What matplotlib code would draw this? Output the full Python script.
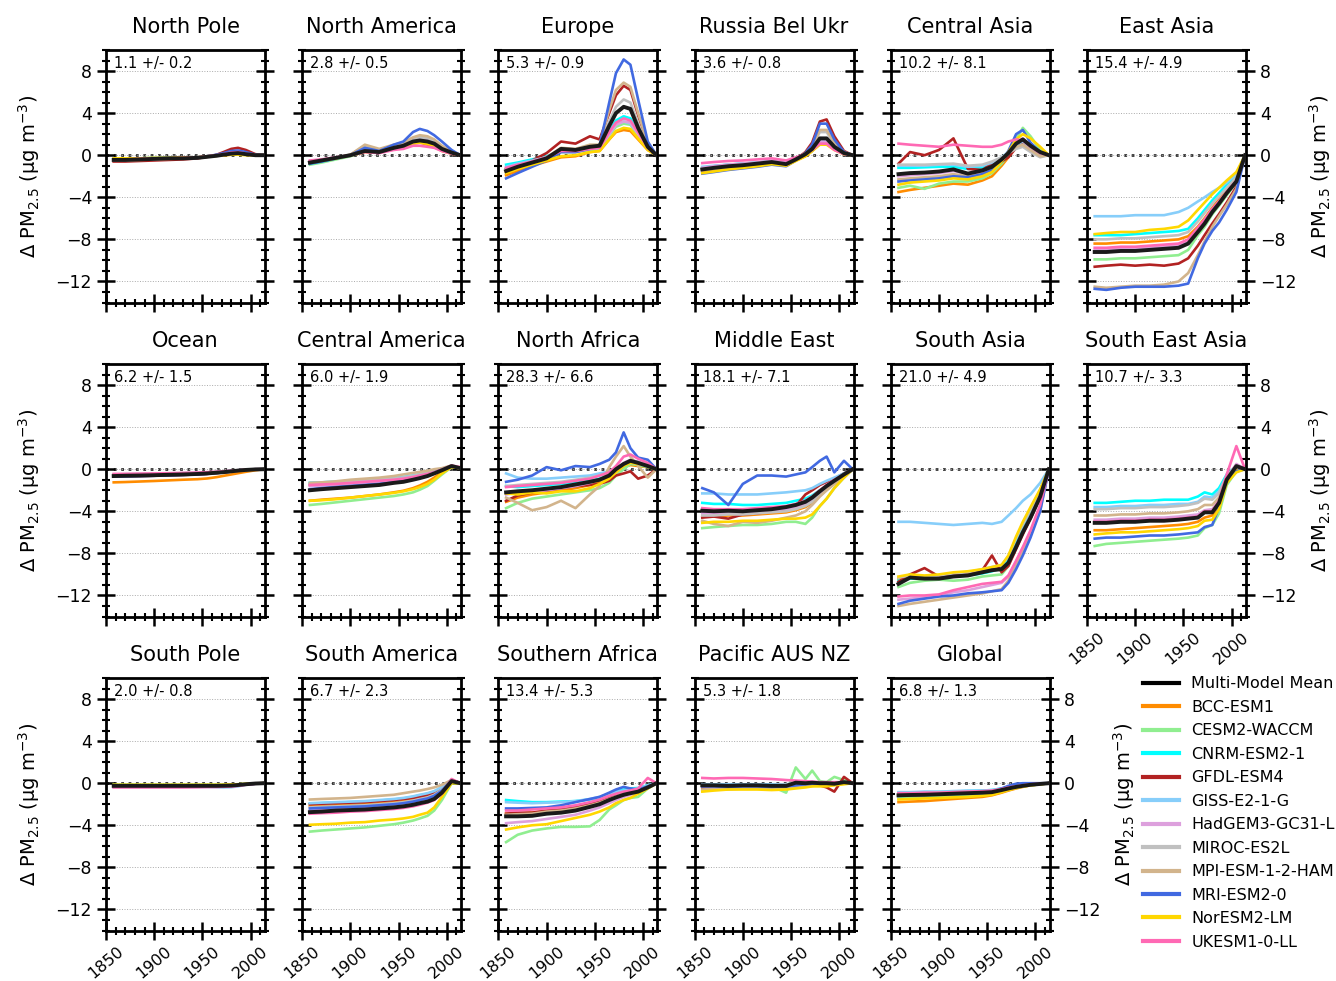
import matplotlib
matplotlib.use("Agg")
import matplotlib.pyplot as plt
from matplotlib.lines import Line2D
from matplotlib.ticker import MultipleLocator

# sample years (values at these years)
YEARS = [1858, 1870, 1885, 1900, 1915, 1930, 1945, 1955, 1965, 1972, 1980, 1987, 1995, 2005, 2014]

SERIES = ["Multi-Model Mean", "BCC-ESM1", "CESM2-WACCM", "CNRM-ESM2-1", "GFDL-ESM4",
          "GISS-E2-1-G", "HadGEM3-GC31-LL", "MIROC-ES2L", "MPI-ESM-1-2-HAM",
          "MRI-ESM2-0", "NorESM2-LM", "UKESM1-0-LL"]
COLORS = ["black", "darkorange", "lightgreen", "cyan", "firebrick", "lightskyblue",
          "plum", "silver", "tan", "royalblue", "gold", "hotpink"]

TITLES = ["North Pole", "North America", "Europe", "Russia Bel Ukr", "Central Asia", "East Asia",
          "Ocean", "Central America", "North Africa", "Middle East", "South Asia", "South East Asia",
          "South Pole", "South America", "Southern Africa", "Pacific AUS NZ", "Global"]
SPREAD = ["1.1 +/- 0.2", "2.8 +/- 0.5", "5.3 +/- 0.9", "3.6 +/- 0.8", "10.2 +/- 8.1", "15.4 +/- 4.9",
          "6.2 +/- 1.5", "6.0 +/- 1.9", "28.3 +/- 6.6", "18.1 +/- 7.1", "21.0 +/- 4.9", "10.7 +/- 3.3",
          "2.0 +/- 0.8", "6.7 +/- 2.3", "13.4 +/- 5.3", "5.3 +/- 1.8", "6.8 +/- 1.3"]

# each region: one row per entry of SERIES (same order)
NORTH_POLE = [
    [-0.45, -0.45, -0.4, -0.35, -0.3, -0.3, -0.25, -0.15, -0.05, 0.05, 0.15, 0.2, 0.1, 0.0, 0.0],
    [-0.4, -0.4, -0.35, -0.3, -0.3, -0.25, -0.2, -0.15, -0.05, 0.0, 0.05, 0.1, 0.05, 0.0, 0.0],
    [-0.3, -0.3, -0.3, -0.25, -0.25, -0.2, -0.2, -0.1, 0.0, 0.05, 0.1, 0.1, 0.05, 0.0, 0.0],
    [-0.35, -0.35, -0.3, -0.3, -0.25, -0.25, -0.2, -0.1, 0.0, 0.05, 0.1, 0.15, 0.1, 0.0, 0.0],
    [-0.6, -0.6, -0.55, -0.5, -0.45, -0.4, -0.3, -0.15, 0.05, 0.3, 0.6, 0.7, 0.5, 0.1, 0.0],
    [-0.3, -0.3, -0.3, -0.25, -0.25, -0.2, -0.2, -0.1, 0.0, 0.05, 0.15, 0.2, 0.1, 0.0, 0.0],
    [-0.4, -0.4, -0.35, -0.3, -0.3, -0.25, -0.2, -0.1, 0.0, 0.1, 0.2, 0.25, 0.15, 0.0, 0.0],
    [-0.35, -0.35, -0.3, -0.3, -0.25, -0.25, -0.2, -0.1, 0.0, 0.1, 0.2, 0.2, 0.1, 0.0, 0.0],
    [-0.5, -0.5, -0.45, -0.4, -0.35, -0.3, -0.25, -0.1, 0.0, 0.15, 0.3, 0.35, 0.2, 0.0, 0.0],
    [-0.45, -0.45, -0.4, -0.35, -0.3, -0.3, -0.25, -0.1, 0.05, 0.2, 0.4, 0.45, 0.3, 0.05, 0.0],
    [-0.3, -0.3, -0.3, -0.25, -0.25, -0.2, -0.2, -0.1, -0.05, 0.0, 0.05, 0.05, 0.0, 0.0, 0.0],
    [-0.4, -0.4, -0.35, -0.3, -0.3, -0.25, -0.2, -0.1, 0.0, 0.1, 0.25, 0.3, 0.15, 0.0, 0.0],
]
NORTH_AMERICA = [
    [-0.7, -0.5, -0.25, 0.0, 0.4, 0.3, 0.7, 0.9, 1.3, 1.4, 1.3, 1.1, 0.6, 0.25, 0.0],
    [-0.7, -0.5, -0.3, -0.05, 0.3, 0.25, 0.6, 0.8, 1.1, 1.2, 1.0, 0.8, 0.4, 0.15, 0.0],
    [-0.9, -0.7, -0.4, -0.1, 0.4, 0.3, 0.7, 0.9, 1.2, 1.3, 1.2, 1.0, 0.6, 0.2, 0.0],
    [-0.8, -0.6, -0.3, 0.0, 0.8, 0.5, 0.9, 1.1, 1.6, 1.8, 1.6, 1.3, 0.8, 0.3, 0.0],
    [-0.6, -0.45, -0.25, 0.0, 0.4, 0.3, 0.6, 0.8, 1.2, 1.4, 1.3, 1.1, 0.6, 0.25, 0.0],
    [-0.7, -0.5, -0.3, 0.0, 0.7, 0.4, 0.8, 1.0, 1.4, 1.6, 1.5, 1.2, 0.7, 0.3, 0.0],
    [-0.6, -0.45, -0.2, 0.0, 0.5, 0.3, 0.7, 0.9, 1.3, 1.5, 1.4, 1.2, 0.7, 0.3, 0.0],
    [-0.7, -0.5, -0.25, 0.05, 0.9, 0.5, 0.9, 1.1, 1.5, 1.7, 1.6, 1.3, 0.8, 0.3, 0.0],
    [-0.7, -0.5, -0.25, 0.05, 1.0, 0.6, 1.0, 1.2, 1.7, 1.9, 1.8, 1.5, 0.9, 0.35, 0.0],
    [-0.8, -0.6, -0.3, 0.0, 0.7, 0.4, 1.0, 1.3, 2.2, 2.5, 2.3, 1.9, 1.3, 0.5, 0.0],
    [-0.7, -0.5, -0.3, 0.0, 0.4, 0.3, 0.6, 0.8, 1.1, 1.2, 1.1, 0.9, 0.5, 0.2, 0.0],
    [-0.5, -0.4, -0.2, 0.0, 0.3, 0.2, 0.5, 0.6, 0.9, 0.9, 0.8, 0.7, 0.4, 0.15, 0.0],
]
EUROPE = [
    [-1.5, -1.1, -0.7, -0.3, 0.6, 0.5, 0.8, 0.9, 2.8, 4.0, 4.6, 4.4, 2.6, 0.8, 0.0],
    [-1.9, -1.5, -1.0, -0.6, -0.2, -0.1, 0.3, 0.4, 1.5, 2.2, 2.4, 2.3, 1.5, 0.5, 0.0],
    [-1.3, -1.0, -0.6, -0.3, 0.3, 0.3, 0.5, 0.6, 1.9, 2.7, 3.0, 2.9, 1.9, 0.6, 0.0],
    [-0.9, -0.7, -0.4, -0.1, 0.4, 0.4, 0.6, 0.7, 2.3, 3.3, 3.7, 3.5, 2.3, 0.7, 0.0],
    [-1.3, -1.0, -0.5, 0.2, 1.3, 1.1, 1.8, 1.5, 4.0, 5.7, 6.6, 6.2, 3.8, 1.0, 0.0],
    [-1.1, -0.8, -0.5, -0.2, 0.4, 0.4, 0.6, 0.7, 2.0, 2.9, 3.2, 3.0, 2.0, 0.6, 0.0],
    [-1.4, -1.1, -0.7, -0.3, 0.4, 0.3, 0.6, 0.7, 2.0, 2.9, 3.2, 3.1, 2.0, 0.6, 0.0],
    [-1.3, -1.0, -0.6, -0.2, 0.5, 0.4, 0.7, 0.8, 3.2, 4.6, 5.3, 5.0, 3.0, 0.9, 0.0],
    [-1.5, -1.1, -0.7, -0.2, 0.7, 0.6, 1.0, 1.0, 4.3, 6.2, 6.9, 6.5, 4.0, 1.1, 0.0],
    [-2.2, -1.7, -1.1, -0.5, 0.3, 0.3, 0.6, 0.9, 5.0, 7.8, 9.1, 8.6, 5.3, 1.3, 0.0],
    [-1.7, -1.3, -0.9, -0.5, -0.1, 0.0, 0.3, 0.4, 1.5, 2.3, 2.6, 2.5, 1.6, 0.5, 0.0],
    [-1.2, -0.9, -0.6, -0.2, 0.4, 0.4, 0.6, 0.7, 2.2, 3.1, 3.5, 3.3, 2.2, 0.7, 0.0],
]
RUSSIA = [
    [-1.35, -1.2, -1.05, -0.95, -0.8, -0.65, -0.85, -0.4, 0.1, 0.6, 1.6, 1.6, 0.8, 0.2, 0.0],
    [-1.5, -1.35, -1.2, -1.1, -0.95, -0.8, -1.0, -0.5, -0.1, 0.4, 1.1, 1.1, 0.6, 0.1, 0.0],
    [-1.3, -1.15, -1.0, -0.9, -0.75, -0.6, -0.8, -0.4, 0.0, 0.4, 1.2, 1.2, 0.6, 0.1, 0.0],
    [-1.2, -1.05, -0.9, -0.8, -0.7, -0.55, -0.75, -0.35, 0.1, 0.6, 1.4, 1.4, 0.7, 0.15, 0.0],
    [-1.4, -1.25, -1.1, -1.0, -0.85, -0.7, -0.9, -0.4, 0.3, 1.2, 3.2, 3.4, 1.8, 0.4, 0.0],
    [-1.1, -1.0, -0.9, -0.8, -0.7, -0.55, -0.7, -0.35, 0.1, 0.5, 1.3, 1.3, 0.7, 0.15, 0.0],
    [-1.2, -1.05, -0.9, -0.8, -0.7, -0.55, -0.75, -0.35, 0.1, 0.5, 1.3, 1.3, 0.7, 0.15, 0.0],
    [-1.4, -1.25, -1.1, -1.0, -0.85, -0.7, -0.9, -0.4, 0.2, 0.8, 2.2, 2.2, 1.1, 0.25, 0.0],
    [-1.45, -1.3, -1.15, -1.05, -0.9, -0.75, -0.95, -0.45, 0.2, 0.9, 2.4, 2.4, 1.2, 0.3, 0.0],
    [-1.75, -1.6, -1.4, -1.25, -1.1, -0.9, -1.05, -0.5, 0.2, 1.0, 3.0, 3.0, 1.5, 0.3, 0.0],
    [-1.7, -1.55, -1.35, -1.2, -1.05, -0.85, -1.0, -0.55, -0.1, 0.4, 1.0, 1.0, 0.5, 0.1, 0.0],
    [-0.75, -0.65, -0.55, -0.5, -0.4, -0.3, -0.5, -0.2, 0.1, 0.5, 1.1, 1.1, 0.5, 0.1, 0.0],
]
CENTRAL_ASIA = [
    [-1.8, -1.7, -1.65, -1.55, -1.35, -1.75, -1.45, -1.1, -0.4, 0.2, 1.1, 1.5, 0.9, 0.3, 0.0],
    [-3.5, -3.3, -3.1, -2.9, -2.7, -2.8, -2.4, -2.0, -1.0, -0.2, 0.8, 1.3, 0.8, 0.2, 0.0],
    [-3.1, -2.9, -3.2, -2.7, -2.5, -2.5, -2.2, -1.7, -0.8, 0.0, 1.5, 2.6, 1.8, 0.5, 0.0],
    [-1.2, -1.2, -1.15, -1.1, -1.1, -1.3, -1.2, -0.9, -0.4, 0.0, 0.8, 1.0, 0.6, 0.2, 0.0],
    [-0.8, 0.3, 0.0, 0.5, 1.6, -1.3, -1.4, -0.8, -0.6, -0.2, 0.7, 1.2, 0.6, 0.2, 0.0],
    [-1.0, -1.0, -1.0, -0.9, -0.9, -1.1, -1.0, -0.7, -0.2, 0.3, 1.0, 1.3, 0.7, 0.2, 0.0],
    [-2.0, -1.9, -1.8, -1.7, -1.5, -1.8, -1.6, -1.2, -0.5, 0.2, 1.2, 1.6, 0.9, 0.3, 0.0],
    [-0.9, -0.9, -0.9, -0.85, -0.8, -1.0, -0.9, -0.6, -0.2, 0.2, 0.6, 0.8, 0.3, -0.2, 0.0],
    [-2.3, -2.2, -2.1, -2.0, -1.8, -2.0, -1.8, -1.3, -0.4, 0.2, 0.8, 1.0, 0.5, -0.1, 0.0],
    [-2.5, -2.4, -2.3, -2.2, -2.0, -2.1, -1.8, -1.4, -0.6, 0.4, 2.0, 2.4, 1.2, 0.3, 0.0],
    [-2.8, -2.6, -2.5, -2.4, -2.2, -2.3, -2.0, -1.6, -0.6, 0.3, 1.5, 2.0, 1.6, 0.8, 0.0],
    [1.1, 1.0, 0.9, 0.8, 1.0, 0.9, 0.8, 0.8, 1.0, 1.3, 1.5, 1.4, 0.8, 0.2, 0.0],
]
EAST_ASIA = [
    [-9.2, -9.2, -9.1, -9.1, -9.0, -8.9, -8.8, -8.4, -7.3, -6.5, -5.4, -4.6, -3.6, -2.5, 0.0],
    [-8.4, -8.4, -8.3, -8.3, -8.2, -8.1, -8.0, -7.7, -6.8, -6.0, -5.0, -4.2, -3.3, -2.2, 0.0],
    [-9.9, -9.9, -9.8, -9.8, -9.7, -9.6, -9.5, -9.0, -7.6, -6.8, -5.6, -4.8, -3.8, -2.6, 0.0],
    [-7.6, -7.6, -7.6, -7.5, -7.4, -7.3, -7.2, -7.0, -6.0, -5.2, -4.3, -3.6, -2.8, -1.9, 0.0],
    [-10.6, -10.5, -10.4, -10.5, -10.4, -10.5, -10.3, -9.8, -8.6, -7.6, -6.5, -5.6, -4.5, -3.0, 0.0],
    [-5.8, -5.8, -5.8, -5.7, -5.7, -5.7, -5.4, -5.0, -4.4, -4.0, -3.5, -3.1, -2.6, -1.8, 0.0],
    [-9.0, -9.0, -8.9, -8.9, -8.8, -8.7, -8.6, -8.2, -7.0, -6.2, -5.2, -4.4, -3.5, -2.4, 0.0],
    [-8.0, -8.0, -7.9, -7.9, -7.8, -7.7, -7.6, -7.3, -6.3, -5.5, -4.6, -3.9, -3.1, -2.1, 0.0],
    [-12.5, -12.6, -12.5, -12.4, -12.4, -12.3, -12.0, -11.2, -9.5, -8.2, -6.8, -5.8, -4.7, -3.2, 0.0],
    [-12.7, -12.8, -12.6, -12.5, -12.5, -12.5, -12.4, -12.2, -9.8, -8.4, -7.2, -6.4, -5.2, -3.5, 0.0],
    [-7.5, -7.4, -7.3, -7.3, -7.1, -7.0, -6.8, -6.2, -5.2, -4.5, -3.7, -3.1, -2.4, -1.6, 0.0],
    [-8.8, -8.8, -8.7, -8.7, -8.6, -8.5, -8.4, -8.0, -6.9, -6.1, -5.1, -4.4, -3.5, -2.4, 0.0],
]
OCEAN = [
    [-0.65, -0.62, -0.6, -0.57, -0.53, -0.5, -0.45, -0.4, -0.33, -0.28, -0.2, -0.13, -0.07, -0.02, 0.0],
    [-1.25, -1.22, -1.17, -1.12, -1.06, -1.0, -0.95, -0.88, -0.75, -0.63, -0.5, -0.38, -0.25, -0.1, 0.0],
    [-0.6, -0.58, -0.56, -0.53, -0.5, -0.47, -0.43, -0.38, -0.32, -0.27, -0.2, -0.13, -0.07, -0.02, 0.0],
    [-0.55, -0.53, -0.5, -0.48, -0.45, -0.42, -0.38, -0.34, -0.28, -0.23, -0.17, -0.11, -0.06, -0.02, 0.0],
    [-0.7, -0.68, -0.65, -0.62, -0.58, -0.54, -0.5, -0.44, -0.36, -0.3, -0.22, -0.14, -0.07, -0.02, 0.0],
    [-0.5, -0.48, -0.46, -0.44, -0.41, -0.38, -0.35, -0.31, -0.26, -0.22, -0.16, -0.1, -0.05, 0.0, 0.0],
    [-0.55, -0.53, -0.5, -0.48, -0.45, -0.42, -0.38, -0.34, -0.28, -0.23, -0.17, -0.11, -0.06, -0.02, 0.0],
    [-0.5, -0.48, -0.46, -0.44, -0.41, -0.38, -0.35, -0.31, -0.26, -0.22, -0.16, -0.1, -0.05, 0.0, 0.0],
    [-0.65, -0.63, -0.6, -0.57, -0.54, -0.5, -0.46, -0.41, -0.34, -0.28, -0.2, -0.13, -0.06, -0.01, 0.0],
    [-0.7, -0.68, -0.65, -0.62, -0.58, -0.54, -0.5, -0.44, -0.36, -0.3, -0.22, -0.14, -0.07, -0.02, 0.0],
    [-0.6, -0.58, -0.56, -0.53, -0.5, -0.47, -0.43, -0.38, -0.32, -0.27, -0.2, -0.13, -0.07, -0.02, 0.0],
    [-0.45, -0.44, -0.42, -0.4, -0.38, -0.35, -0.32, -0.28, -0.24, -0.2, -0.15, -0.1, -0.05, 0.0, 0.0],
]
CENTRAL_AMERICA = [
    [-2.0, -1.9, -1.8, -1.7, -1.6, -1.5, -1.3, -1.2, -1.0, -0.85, -0.65, -0.4, -0.1, 0.3, 0.1],
    [-3.0, -2.9, -2.8, -2.7, -2.55, -2.4, -2.2, -2.05, -1.8, -1.55, -1.2, -0.8, -0.3, 0.2, 0.1],
    [-3.4, -3.3, -3.15, -3.0, -2.85, -2.7, -2.55, -2.4, -2.2, -1.95, -1.6, -1.1, -0.5, 0.2, 0.1],
    [-1.3, -1.25, -1.2, -1.1, -1.05, -0.95, -0.85, -0.75, -0.6, -0.5, -0.35, -0.2, 0.0, 0.3, 0.1],
    [-1.5, -1.45, -1.4, -1.3, -1.2, -1.1, -1.0, -0.9, -0.75, -0.6, -0.45, -0.3, -0.05, 0.3, 0.1],
    [-1.3, -1.25, -1.2, -1.1, -1.05, -0.95, -0.85, -0.75, -0.6, -0.5, -0.35, -0.2, 0.0, 0.3, 0.1],
    [-1.6, -1.55, -1.5, -1.4, -1.3, -1.2, -1.05, -0.95, -0.8, -0.65, -0.5, -0.3, -0.05, 0.3, 0.1],
    [-1.4, -1.35, -1.3, -1.2, -1.1, -1.0, -0.9, -0.8, -0.65, -0.5, -0.35, -0.2, 0.0, 0.3, 0.1],
    [-1.3, -1.25, -1.15, -1.0, -0.9, -0.8, -0.65, -0.5, -0.35, -0.25, -0.15, 0.0, 0.1, 0.35, 0.1],
    [-1.9, -1.8, -1.7, -1.6, -1.5, -1.4, -1.25, -1.1, -0.9, -0.75, -0.55, -0.3, -0.05, 0.3, 0.1],
    [-3.0, -2.95, -2.85, -2.7, -2.55, -2.4, -2.25, -2.1, -1.9, -1.7, -1.4, -1.0, -0.4, 0.2, 0.1],
    [-1.5, -1.45, -1.4, -1.3, -1.2, -1.1, -1.0, -0.9, -0.75, -0.6, -0.45, -0.3, -0.05, 0.35, 0.2],
]
NORTH_AFRICA = [
    [-2.2, -2.1, -2.0, -1.85, -1.7, -1.45, -1.2, -1.0, -0.6, 0.0, 0.5, 0.8, 0.6, 0.3, 0.0],
    [-3.1, -2.7, -2.4, -2.2, -2.0, -1.8, -1.5, -1.2, -0.8, -0.2, 0.2, 0.4, 0.3, 0.2, 0.0],
    [-3.7, -3.2, -2.8, -2.6, -2.4, -2.2, -2.0, -1.8, -1.3, -0.6, 0.0, 0.5, 0.4, 0.2, 0.0],
    [-1.6, -1.7, -1.6, -1.5, -1.4, -1.3, -1.1, -0.9, -0.6, -0.2, 0.3, 0.6, 0.5, 0.3, 0.0],
    [-3.0, -2.5, -2.2, -2.0, -1.8, -1.6, -1.5, -1.4, -1.1, -0.6, -0.4, -0.2, -0.9, -0.6, 0.0],
    [-0.4, -0.8, -0.9, -0.9, -0.8, -0.7, -0.6, -0.4, -0.2, 0.1, 0.4, 0.6, 0.5, 0.3, 0.0],
    [-2.4, -2.2, -2.1, -2.0, -1.8, -1.6, -1.3, -1.0, -0.6, 0.0, 0.6, 0.9, 0.7, 0.4, 0.0],
    [-1.6, -1.5, -1.4, -1.3, -1.2, -1.0, -0.8, -0.6, -0.3, 0.1, 0.5, 0.8, 0.7, 0.4, 0.0],
    [-2.7, -3.2, -3.9, -3.6, -3.0, -3.7, -2.4, -1.6, 0.2, 1.2, 2.2, 1.2, 0.3, -0.8, 0.0],
    [-1.2, -1.0, -0.6, 0.2, -0.1, 0.3, 0.2, 0.5, 0.9, 1.6, 3.5, 2.0, 1.1, 0.9, 0.0],
    [-2.3, -2.4, -2.2, -2.3, -2.1, -2.1, -1.8, -1.4, -0.9, -0.3, 0.3, 0.6, 0.5, 0.3, 0.0],
    [-1.7, -1.6, -1.5, -1.4, -1.3, -1.1, -0.9, -0.6, -0.3, 0.3, 1.2, 1.4, 1.0, 0.6, 0.0],
]
MIDDLE_EAST = [
    [-3.95, -4.0, -3.95, -4.0, -3.9, -3.8, -3.6, -3.4, -3.1, -2.7, -2.1, -1.6, -1.1, -0.5, 0.0],
    [-4.5, -4.5, -4.4, -4.4, -4.3, -4.2, -4.1, -3.9, -3.6, -3.2, -2.5, -1.9, -1.3, -0.6, 0.0],
    [-5.6, -5.5, -5.4, -5.3, -5.3, -5.2, -5.0, -5.0, -5.2, -4.6, -3.5, -2.8, -1.8, -0.8, 0.0],
    [-3.2, -3.3, -3.3, -3.4, -3.4, -3.3, -3.2, -3.0, -2.8, -2.5, -2.0, -1.6, -1.1, -0.5, 0.0],
    [-4.6, -4.5, -4.7, -4.3, -4.2, -4.0, -3.8, -3.5, -2.4, -2.0, -1.5, -1.2, -0.9, -0.4, 0.0],
    [-2.3, -2.3, -2.4, -2.4, -2.4, -2.3, -2.2, -2.1, -2.0, -1.8, -1.4, -1.1, -0.8, -0.4, 0.0],
    [-4.2, -4.2, -4.1, -4.1, -4.0, -3.9, -3.8, -3.6, -3.3, -2.9, -2.3, -1.8, -1.2, -0.6, 0.0],
    [-4.4, -4.4, -4.3, -4.3, -4.2, -4.1, -4.0, -3.8, -3.5, -3.1, -2.5, -2.0, -1.4, -0.7, 0.0],
    [-4.9, -5.2, -5.4, -5.0, -5.1, -4.9, -4.6, -4.4, -4.0, -3.4, -2.6, -2.0, -1.4, -0.8, 0.0],
    [-1.8, -2.2, -3.4, -1.4, -0.6, -0.6, -0.7, -0.5, -0.3, 0.2, 0.8, 1.2, -0.3, 0.8, 0.0],
    [-5.1, -5.0, -5.0, -4.9, -4.9, -4.8, -4.7, -4.7, -4.6, -4.3, -3.5, -2.8, -1.8, -0.8, 0.0],
    [-3.7, -3.8, -3.8, -3.8, -3.7, -3.6, -3.5, -3.3, -3.0, -2.6, -2.0, -1.5, -1.0, -0.5, 0.0],
]
SOUTH_ASIA = [
    [-10.9, -10.3, -10.4, -10.4, -10.2, -10.1, -9.8, -9.6, -9.5, -8.9, -7.4, -6.0, -4.6, -2.6, 0.0],
    [-10.4, -10.2, -10.3, -10.2, -10.0, -9.9, -9.7, -9.5, -9.3, -8.4, -6.6, -5.2, -3.8, -2.0, 0.0],
    [-11.2, -10.8, -10.6, -10.5, -10.6, -10.5, -10.2, -10.1, -10.0, -9.2, -7.4, -6.0, -4.5, -2.5, 0.0],
    [-10.6, -10.4, -10.4, -10.3, -10.2, -10.1, -9.9, -9.7, -9.4, -8.5, -6.8, -5.4, -3.9, -2.0, 0.0],
    [-10.7, -10.0, -9.4, -10.2, -10.0, -9.8, -9.6, -8.2, -9.8, -9.2, -7.6, -6.2, -4.7, -2.7, 0.0],
    [-5.0, -5.0, -5.1, -5.2, -5.3, -5.2, -5.1, -5.2, -5.0, -4.4, -3.7, -3.0, -2.4, -1.3, 0.0],
    [-12.4, -12.3, -12.2, -12.0, -11.7, -11.5, -11.2, -11.0, -10.8, -10.2, -8.8, -7.6, -6.0, -3.6, 0.0],
    [-10.3, -10.1, -10.2, -10.1, -9.9, -9.8, -9.5, -9.3, -9.1, -8.3, -6.6, -5.3, -3.9, -2.1, 0.0],
    [-13.0, -12.8, -12.6, -12.4, -12.2, -12.0, -11.8, -11.6, -11.4, -10.6, -9.2, -7.9, -6.3, -3.9, 0.0],
    [-12.8, -12.5, -12.3, -12.1, -12.0, -11.8, -11.7, -11.6, -11.5, -10.8, -9.5, -8.2, -6.5, -4.0, 0.0],
    [-10.2, -10.0, -10.1, -10.0, -9.8, -9.7, -9.5, -9.3, -9.1, -8.2, -6.4, -5.0, -3.6, -1.9, 0.0],
    [-12.1, -12.0, -12.0, -11.9, -11.5, -11.2, -10.9, -10.8, -10.7, -10.1, -8.7, -7.4, -5.8, -3.4, 0.0],
]
SOUTH_EAST_ASIA = [
    [-5.1, -5.1, -5.0, -5.0, -4.9, -4.9, -4.8, -4.7, -4.6, -4.1, -4.1, -3.2, -1.0, 0.3, 0.0],
    [-5.8, -5.8, -5.7, -5.6, -5.5, -5.4, -5.3, -5.2, -5.0, -4.6, -4.4, -3.6, -1.2, 0.0, 0.0],
    [-7.3, -7.1, -7.0, -6.9, -6.8, -6.7, -6.6, -6.5, -6.3, -5.6, -5.3, -4.2, -1.5, -0.2, 0.0],
    [-3.2, -3.2, -3.1, -3.0, -3.0, -2.9, -2.9, -2.9, -2.6, -2.2, -2.4, -1.8, -0.5, 0.3, 0.0],
    [-5.0, -5.0, -4.9, -4.9, -4.8, -4.8, -4.7, -4.6, -4.5, -4.0, -4.0, -3.1, -0.9, 0.4, 0.0],
    [-3.6, -3.6, -3.5, -3.5, -3.4, -3.4, -3.3, -3.3, -3.1, -2.6, -2.7, -2.1, -0.6, 0.3, 0.0],
    [-4.8, -4.8, -4.7, -4.7, -4.6, -4.6, -4.5, -4.4, -4.3, -3.9, -3.8, -3.0, -0.8, 0.5, 0.0],
    [-3.8, -3.8, -3.7, -3.7, -3.6, -3.6, -3.5, -3.4, -3.2, -2.8, -2.9, -2.3, -0.6, 0.2, 0.0],
    [-4.4, -4.4, -4.3, -4.3, -4.2, -4.2, -4.1, -4.0, -3.8, -3.4, -3.4, -2.7, -0.8, 0.2, 0.0],
    [-6.6, -6.5, -6.5, -6.4, -6.3, -6.3, -6.2, -6.1, -6.0, -5.5, -5.3, -3.6, -1.2, -0.2, 0.0],
    [-6.2, -6.1, -6.0, -6.0, -5.9, -5.8, -5.7, -5.6, -5.4, -4.9, -4.8, -3.8, -1.3, -0.3, 0.0],
    [-5.0, -5.0, -4.9, -4.9, -4.8, -4.8, -4.7, -4.6, -4.5, -4.0, -4.0, -3.0, -0.5, 2.2, 0.0],
]
SOUTH_POLE = [
    [-0.25, -0.25, -0.25, -0.25, -0.25, -0.25, -0.25, -0.25, -0.25, -0.24, -0.22, -0.17, -0.1, -0.03, 0.0],
    [-0.2, -0.2, -0.2, -0.2, -0.2, -0.2, -0.2, -0.2, -0.2, -0.19, -0.17, -0.13, -0.08, -0.02, 0.0],
    [-0.15, -0.15, -0.15, -0.15, -0.15, -0.15, -0.15, -0.15, -0.15, -0.14, -0.12, -0.1, -0.06, -0.02, 0.0],
    [-0.3, -0.3, -0.3, -0.3, -0.3, -0.3, -0.3, -0.3, -0.3, -0.28, -0.25, -0.2, -0.12, -0.04, 0.0],
    [-0.3, -0.3, -0.3, -0.3, -0.3, -0.3, -0.3, -0.3, -0.3, -0.28, -0.25, -0.2, -0.12, -0.04, 0.0],
    [-0.35, -0.35, -0.35, -0.35, -0.35, -0.35, -0.35, -0.35, -0.38, -0.4, -0.38, -0.3, -0.15, -0.05, 0.0],
    [-0.35, -0.35, -0.35, -0.35, -0.35, -0.35, -0.35, -0.35, -0.35, -0.34, -0.3, -0.25, -0.15, -0.05, 0.0],
    [-0.2, -0.2, -0.2, -0.2, -0.2, -0.2, -0.2, -0.2, -0.2, -0.19, -0.17, -0.13, -0.08, -0.02, 0.0],
    [-0.25, -0.25, -0.25, -0.25, -0.25, -0.25, -0.25, -0.25, -0.25, -0.24, -0.22, -0.17, -0.1, -0.03, 0.0],
    [-0.3, -0.3, -0.3, -0.3, -0.3, -0.3, -0.3, -0.3, -0.3, -0.28, -0.25, -0.2, -0.12, -0.04, 0.0],
    [-0.15, -0.15, -0.15, -0.15, -0.15, -0.15, -0.15, -0.15, -0.15, -0.14, -0.12, -0.1, -0.06, -0.02, 0.0],
    [-0.4, -0.4, -0.4, -0.4, -0.4, -0.4, -0.38, -0.36, -0.35, -0.33, -0.3, -0.24, -0.14, -0.05, 0.0],
]
SOUTH_AMERICA = [
    [-2.75, -2.7, -2.6, -2.55, -2.5, -2.4, -2.3, -2.2, -2.05, -1.9, -1.75, -1.5, -0.9, 0.2, 0.0],
    [-2.2, -2.15, -2.1, -2.05, -2.0, -1.9, -1.8, -1.7, -1.55, -1.4, -1.25, -1.0, -0.5, 0.25, 0.0],
    [-4.6, -4.5, -4.4, -4.3, -4.2, -4.05, -3.9, -3.75, -3.55, -3.35, -3.1, -2.6, -1.6, 0.0, 0.0],
    [-1.95, -1.9, -1.85, -1.8, -1.75, -1.65, -1.55, -1.45, -1.3, -1.15, -1.0, -0.8, -0.4, 0.3, 0.0],
    [-2.0, -1.95, -1.9, -1.85, -1.8, -1.7, -1.6, -1.5, -1.4, -1.3, -1.1, -0.9, -0.5, 0.3, 0.0],
    [-1.9, -1.85, -1.8, -1.75, -1.7, -1.6, -1.5, -1.4, -1.25, -1.1, -0.95, -0.75, -0.35, 0.3, 0.0],
    [-2.6, -2.55, -2.5, -2.45, -2.4, -2.3, -2.2, -2.1, -1.95, -1.8, -1.6, -1.35, -0.8, 0.3, 0.0],
    [-2.3, -2.25, -2.2, -2.15, -2.1, -2.0, -1.9, -1.8, -1.65, -1.5, -1.35, -1.1, -0.6, 0.25, 0.0],
    [-1.55, -1.5, -1.45, -1.4, -1.3, -1.2, -1.1, -0.95, -0.8, -0.7, -0.55, -0.4, -0.15, 0.3, 0.0],
    [-2.4, -2.35, -2.3, -2.25, -2.2, -2.1, -2.0, -1.9, -1.75, -1.6, -1.45, -1.2, -0.7, 0.3, 0.0],
    [-3.95, -3.9, -3.85, -3.75, -3.7, -3.55, -3.45, -3.35, -3.2, -3.0, -2.8, -2.3, -1.3, 0.0, 0.0],
    [-2.9, -2.85, -2.8, -2.7, -2.65, -2.55, -2.45, -2.35, -2.2, -2.05, -1.85, -1.6, -1.0, 0.4, 0.0],
]
SOUTHERN_AFRICA = [
    [-3.15, -3.15, -3.1, -2.9, -2.8, -2.6, -2.25, -2.0, -1.6, -1.35, -1.1, -0.95, -0.8, -0.4, 0.0],
    [-2.9, -2.85, -2.8, -2.6, -2.5, -2.3, -2.0, -1.8, -1.5, -1.3, -1.1, -0.9, -0.8, -0.4, 0.0],
    [-5.6, -4.9, -4.5, -4.3, -4.15, -4.15, -4.1, -3.5, -2.5, -2.1, -1.6, -1.4, -1.3, -0.5, 0.0],
    [-1.6, -1.7, -1.8, -1.8, -1.75, -1.7, -1.55, -1.4, -1.0, -0.8, -0.6, -0.5, -0.45, -0.2, 0.0],
    [-2.9, -2.8, -2.8, -2.6, -2.4, -2.2, -1.9, -1.7, -1.4, -1.2, -1.0, -0.9, -0.7, -0.3, 0.0],
    [-1.8, -1.85, -1.9, -1.85, -1.8, -1.7, -1.5, -1.3, -1.0, -0.8, -0.7, -0.6, -0.5, -0.2, 0.0],
    [-3.8, -3.7, -3.6, -3.4, -3.2, -3.0, -2.6, -2.3, -1.9, -1.6, -1.3, -1.1, -0.9, -0.4, 0.0],
    [-3.1, -3.0, -2.95, -2.8, -2.7, -2.5, -2.2, -1.9, -1.6, -1.3, -1.1, -0.9, -0.8, -0.4, 0.0],
    [-3.0, -2.95, -2.9, -2.7, -2.6, -2.4, -2.1, -1.85, -1.5, -1.25, -1.0, -0.85, -0.7, -0.3, 0.0],
    [-2.4, -2.4, -2.35, -2.3, -2.1, -1.8, -1.5, -1.3, -0.9, -0.6, -0.35, -0.5, -0.6, -0.3, 0.0],
    [-4.4, -4.2, -4.0, -3.9, -3.6, -3.3, -3.0, -2.7, -2.3, -1.9, -1.6, -1.4, -1.0, -0.5, 0.0],
    [-2.6, -2.6, -2.5, -2.4, -2.3, -2.1, -1.8, -1.55, -1.2, -1.0, -0.8, -0.7, -0.5, 0.5, 0.0],
]
PACIFIC = [
    [-0.2, -0.2, -0.25, -0.2, -0.2, -0.25, -0.25, 0.05, 0.0, 0.05, 0.0, 0.0, -0.05, 0.1, 0.0],
    [-0.5, -0.5, -0.5, -0.45, -0.45, -0.45, -0.4, -0.3, -0.3, -0.25, -0.2, -0.2, -0.15, -0.05, 0.0],
    [-0.3, -0.2, -0.3, -0.2, -0.2, -0.3, -0.9, 1.5, 0.4, 1.2, 0.2, 0.1, 0.6, 0.3, 0.0],
    [-0.2, -0.2, -0.2, -0.2, -0.2, -0.2, -0.2, -0.1, -0.1, -0.05, 0.0, 0.0, 0.0, 0.0, 0.0],
    [-0.4, -0.3, -0.4, -0.3, -0.35, -0.4, -0.3, -0.2, -0.1, -0.1, -0.2, -0.4, -0.8, 0.6, 0.0],
    [-0.1, -0.1, -0.1, -0.1, -0.1, -0.1, -0.1, 0.0, 0.0, 0.0, 0.0, 0.0, 0.0, 0.0, 0.0],
    [-0.3, -0.3, -0.3, -0.3, -0.3, -0.3, -0.25, -0.15, -0.1, -0.1, -0.05, 0.0, 0.0, 0.0, 0.0],
    [-0.2, -0.2, -0.2, -0.2, -0.2, -0.2, -0.15, -0.1, -0.05, 0.0, 0.0, 0.0, 0.0, 0.0, 0.0],
    [-0.6, -0.55, -0.6, -0.5, -0.5, -0.55, -0.5, -0.4, -0.3, -0.25, -0.2, -0.2, -0.1, 0.0, 0.0],
    [-0.3, -0.3, -0.35, -0.3, -0.3, -0.35, -0.3, -0.2, -0.1, -0.1, -0.1, 0.0, 0.0, 0.0, 0.0],
    [-0.8, -0.7, -0.6, -0.6, -0.6, -0.65, -0.6, -0.5, -0.4, -0.3, -0.3, -0.3, -0.2, -0.1, 0.0],
    [0.5, 0.45, 0.5, 0.5, 0.45, 0.4, 0.3, 0.25, 0.2, 0.15, 0.1, 0.1, 0.1, 0.1, 0.0],
]
GLOBAL = [
    [-1.15, -1.12, -1.1, -1.05, -1.0, -0.95, -0.9, -0.85, -0.65, -0.5, -0.35, -0.25, -0.15, -0.07, 0.0],
    [-1.8, -1.75, -1.7, -1.6, -1.5, -1.4, -1.3, -1.15, -0.9, -0.7, -0.5, -0.35, -0.2, -0.1, 0.0],
    [-1.45, -1.4, -1.35, -1.3, -1.25, -1.2, -1.1, -1.0, -0.8, -0.6, -0.45, -0.3, -0.2, -0.1, 0.0],
    [-0.9, -0.9, -0.85, -0.85, -0.8, -0.75, -0.7, -0.65, -0.5, -0.4, -0.3, -0.2, -0.1, -0.05, 0.0],
    [-1.1, -1.1, -1.05, -1.0, -0.95, -0.9, -0.85, -0.8, -0.6, -0.45, -0.3, -0.2, -0.1, -0.05, 0.0],
    [-0.85, -0.85, -0.8, -0.8, -0.75, -0.7, -0.7, -0.65, -0.5, -0.4, -0.3, -0.2, -0.1, -0.05, 0.0],
    [-1.0, -1.0, -0.95, -0.95, -0.9, -0.85, -0.8, -0.75, -0.6, -0.45, -0.3, -0.2, -0.1, -0.05, 0.0],
    [-1.0, -1.0, -0.95, -0.9, -0.85, -0.8, -0.8, -0.75, -0.55, -0.4, -0.3, -0.2, -0.1, -0.05, 0.0],
    [-1.2, -1.15, -1.1, -1.05, -1.0, -0.95, -0.9, -0.85, -0.65, -0.5, -0.35, -0.25, -0.15, -0.05, 0.0],
    [-1.2, -1.15, -1.1, -1.05, -1.0, -0.95, -0.9, -0.8, -0.5, -0.25, -0.05, 0.0, 0.0, 0.0, 0.0],
    [-1.55, -1.5, -1.45, -1.4, -1.35, -1.3, -1.2, -1.1, -0.85, -0.65, -0.45, -0.3, -0.2, -0.1, 0.0],
    [-0.95, -0.95, -0.9, -0.9, -0.85, -0.8, -0.75, -0.7, -0.55, -0.4, -0.3, -0.2, -0.1, -0.05, 0.0],
]

PANELS = [NORTH_POLE, NORTH_AMERICA, EUROPE, RUSSIA, CENTRAL_ASIA, EAST_ASIA,
          OCEAN, CENTRAL_AMERICA, NORTH_AFRICA, MIDDLE_EAST, SOUTH_ASIA, SOUTH_EAST_ASIA,
          SOUTH_POLE, SOUTH_AMERICA, SOUTHERN_AFRICA, PACIFIC, GLOBAL]

YLABEL = "Δ PM$_{2.5}$ (μg m$^{-3}$)"

W, H = 1336, 981
fig = plt.figure(figsize=(W / 100, H / 100), dpi=100)

# panel geometry in pixels
x0, dx, pw = 106, 196.2, 159
y0, dy, ph = 50, 314, 252.5

for i, (title, data) in enumerate(zip(TITLES, PANELS)):
    row, col = divmod(i, 6)
    left = (x0 + col * dx) / W
    bottom = 1 - (y0 + row * dy + ph) / H
    ax = fig.add_axes([left, bottom, pw / W, ph / H])

    ax.axhline(0, color="#333333", ls=":", lw=2.0, zorder=1)
    for k in range(1, len(SERIES)):
        ax.plot(YEARS, data[k], color=COLORS[k], lw=1.9, zorder=2)
    ax.plot(YEARS, data[0], color="#1a1a1a", lw=2.8, zorder=3)

    ax.set_xlim(1850, 2015)
    ax.set_ylim(-14, 10)
    ax.xaxis.set_major_locator(MultipleLocator(50))
    ax.xaxis.set_minor_locator(MultipleLocator(10))
    ax.yaxis.set_major_locator(MultipleLocator(4))
    ax.yaxis.set_minor_locator(MultipleLocator(1))
    ax.grid(axis="y", which="major", ls=":", lw=0.7, color="#aaaaaa")
    for sp in ax.spines.values():
        sp.set_linewidth(2.0)

    right_side = (col == 5) or (i == 16)
    xlabels = (row == 2) or (i == 11)
    ax.tick_params(which="major", direction="inout", length=13, width=1.8,
                   left=True, right=True, top=False, bottom=True, labelsize=12.5,
                   labelleft=(col == 0), labelright=right_side, labelbottom=xlabels)
    ax.tick_params(which="minor", direction="inout", length=6, width=1.5,
                   left=True, right=True, top=False, bottom=True)
    ax.tick_params(axis="x", which="major", pad=3)
    if xlabels:
        for lab in ax.get_xticklabels():
            lab.set_rotation(40)
            lab.set_fontsize(11.5)
    if col == 0:
        ax.set_ylabel(YLABEL, fontsize=14, labelpad=10)
    if right_side:
        ax.yaxis.set_label_position("right")
        ax.set_ylabel(YLABEL, fontsize=14, labelpad=8)

    ax.set_title(title, fontsize=15, pad=12)
    ax.text(0.05, 0.975, SPREAD[i], transform=ax.transAxes, ha="left", va="top", fontsize=10.5)

handles = [Line2D([], [], color=c, lw=3) for c in COLORS]
fig.legend(handles, SERIES, loc="upper left", bbox_to_anchor=(1137 / W, 1 - 670 / H),
           frameon=False, fontsize=11.5, handlelength=2.2, labelspacing=0.53,
           handletextpad=0.8, borderaxespad=0)

fig.savefig("out.png", dpi=100)
